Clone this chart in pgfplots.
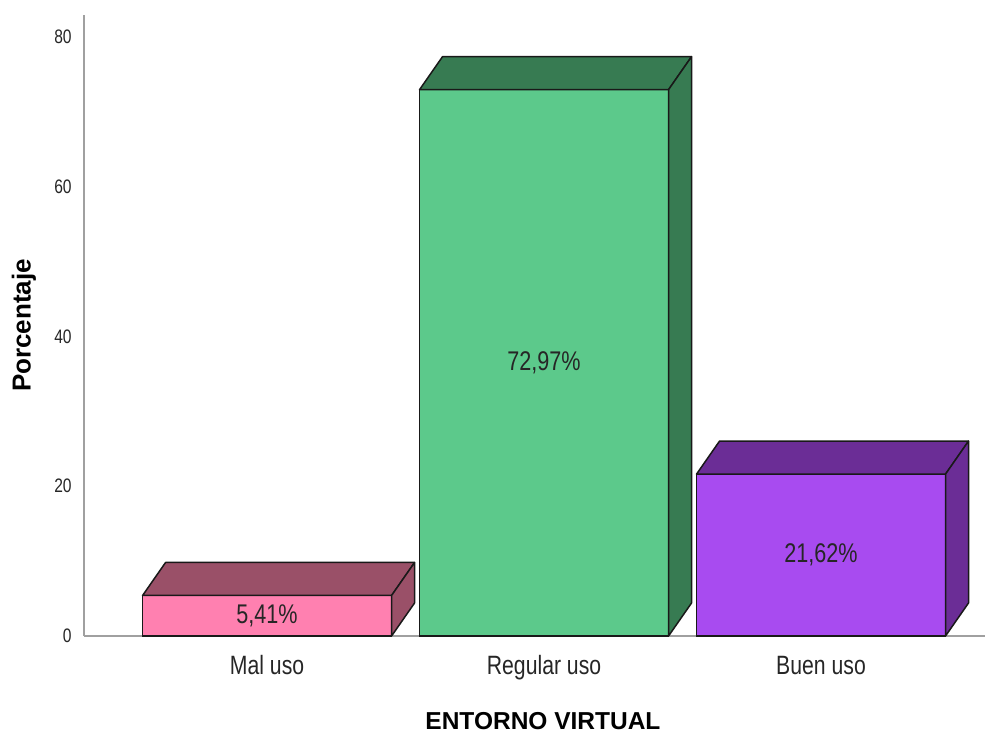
\documentclass[border=0pt]{standalone}
\usepackage{pgfplots}
\pgfplotsset{compat=1.18}
\usepackage{fontspec}
\setmainfont{Liberation Sans}
\newfontfamily\narrow[FakeStretch=0.8]{Liberation Sans}
\definecolor{pinkF}{HTML}{FF80B0}
\definecolor{pinkD}{HTML}{9A5068}
\definecolor{greenF}{HTML}{5CC98B}
\definecolor{greenD}{HTML}{377B52}
\definecolor{purpF}{HTML}{A84BF0}
\definecolor{purpD}{HTML}{6B2D96}
\definecolor{axgray}{HTML}{A0A0A0}
\begin{document}
\begin{tikzpicture}
\useasboundingbox (0,0) rectangle (986bp,734bp);
\begin{axis}[
  at={(84bp,98bp)}, anchor=south west,
  scale only axis, width=901bp, height=621bp,
  xmin=-0.661, xmax=2.592, ymin=0, ymax=82.94,
  enlargelimits=false,
  axis x line=bottom, axis y line=left,
  axis line style={-, axgray, line width=1.6bp},
  xtick={0,1,2}, xticklabels={Mal uso, Regular uso, Buen uso},
  ytick={0,20,40,60,80},
  tick style={draw=none},
  /pgf/number format/assume math mode=true,
  x tick label style={anchor=base, yshift=-36bp, font=\narrow\fontsize{26.5bp}{27bp}\selectfont, text=black!85},
  y tick label style={anchor=east, inner sep=0pt, xshift=-10bp, font=\narrow\fontsize{19.5bp}{20bp}\selectfont, text=black!85},
  xlabel={ENTORNO VIRTUAL},
  ylabel={Porcentaje},
  xlabel style={at={(axis description cs:0.5094,-0.1498)}, anchor=base, inner sep=0pt, font=\bfseries\fontsize{24.5bp}{25bp}\selectfont},
  ylabel style={at={(axis description cs:-0.0666,0.5)}, anchor=center, inner sep=0pt, font=\bfseries\fontsize{26bp}{27bp}\selectfont},
  clip=false,
]
% front faces
\addplot[ybar, bar width=249bp, bar shift=0pt, fill=pinkF, draw=black!90, line width=1.5bp] coordinates {(0,5.41)};
\addplot[ybar, bar width=249bp, bar shift=0pt, fill=greenF, draw=black!90, line width=1.5bp] coordinates {(1,72.97)};
\addplot[ybar, bar width=249bp, bar shift=0pt, fill=purpF, draw=black!90, line width=1.5bp] coordinates {(2,21.62)};
% tops
\addplot[fill=pinkD, draw=black!90, line width=1.5bp, line join=round] coordinates {(-0.4495,5.41) (0.4495,5.41) (0.5325,9.82) (-0.3665,9.82)} --cycle;
\addplot[fill=greenD, draw=black!90, line width=1.5bp, line join=round] coordinates {(0.5505,72.97) (1.4495,72.97) (1.5325,77.38) (0.6335,77.38)} --cycle;
\addplot[fill=purpD, draw=black!90, line width=1.5bp, line join=round] coordinates {(1.5505,21.62) (2.4495,21.62) (2.5325,26.03) (1.6335,26.03)} --cycle;
% sides
\addplot[fill=pinkD, draw=black!90, line width=1.5bp, line join=round] coordinates {(0.4495,0) (0.5325,4.41) (0.5325,9.82) (0.4495,5.41)} --cycle;
\addplot[fill=greenD, draw=black!90, line width=1.5bp, line join=round] coordinates {(1.4495,0) (1.5325,4.41) (1.5325,77.38) (1.4495,72.97)} --cycle;
\addplot[fill=purpD, draw=black!90, line width=1.5bp, line join=round] coordinates {(2.4495,0) (2.5325,4.41) (2.5325,26.03) (2.4495,21.62)} --cycle;
% value labels
\addplot[draw=none, mark=none, nodes near coords, point meta=explicit symbolic,
  nodes near coords style={anchor=center, inner sep=0pt, font=\narrow\fontsize{27bp}{28bp}\selectfont, text=black!85}]
  coordinates {(0,2.705)[5,41\%] (1,36.485)[72,97\%] (2,10.81)[21,62\%]};
\end{axis}
\end{tikzpicture}
\end{document}
